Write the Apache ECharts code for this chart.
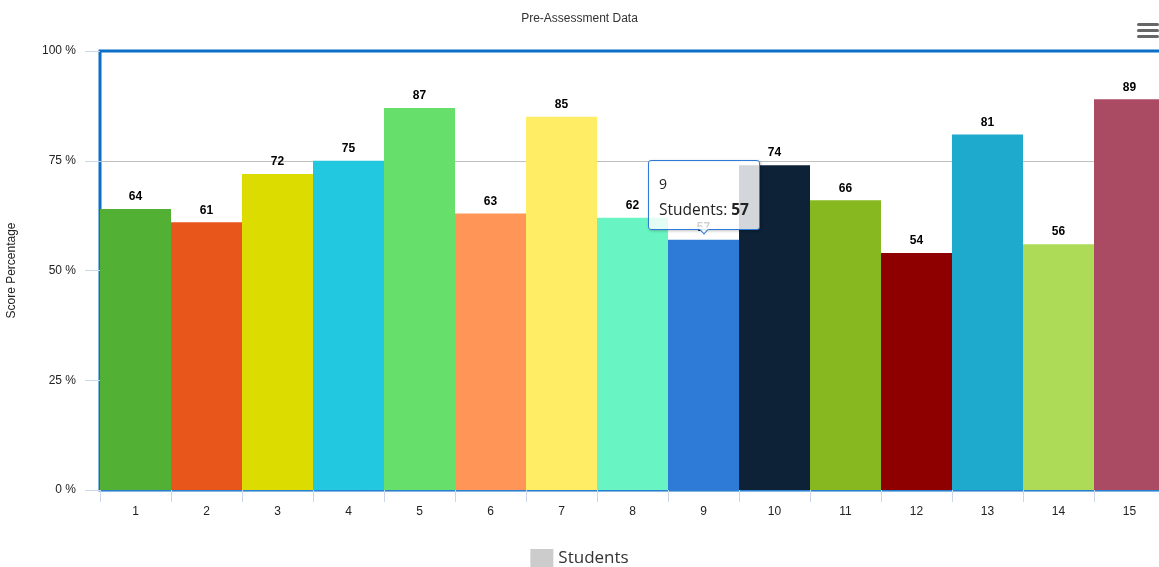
<!DOCTYPE html>
<html>
<head>
<meta charset="utf-8">
<script src="https://cdn.jsdelivr.net/npm/echarts@6/dist/echarts.min.js"></script>
<style>
  html, body { margin: 0; padding: 0; background: #fff; }
  #chart { width: 1159px; height: 567px; }
</style>
</head>
<body>
<div id="chart"></div>
<script>
// pre-assessment bar chart
var students = ['1', '2', '3', '4', '5', '6', '7', '8', '9', '10', '11', '12', '13', '14', '15'];
var scores = [64, 61, 72, 75, 87, 63, 85, 62, 57, 74, 66, 54, 81, 56, 89];
var barColors = ['#52b135', '#e8561c', '#dcdc00', '#22c7e0', '#66e06a', '#ff9658', '#ffed66', '#69f5c3',
                 '#2d7bd6', '#0d2137', '#88b81f', '#8e0000', '#1eaacd', '#addb57', '#ab4b63'];
var yTicks = [0, 25, 50, 75, 100];

(function() {
    var myChart = echarts.init(document.getElementById('chart'));
    var font = '"Liberation Sans", Arial, sans-serif';

    var option = {
        animation: false,
        title: {
            text: 'Pre-Assessment Data',
            left: 'center',
            top: 8,
            textStyle: { fontFamily: font, fontSize: 12, fontWeight: 'normal', color: '#333' }
        },
        graphic: [{
            type: 'group',
            right: 0,
            top: 23,
            children: [
                { type: 'rect', shape: { x: 0, y: 0, width: 22, height: 3, r: 1.5 }, style: { fill: '#666' } },
                { type: 'rect', shape: { x: 0, y: 6, width: 22, height: 3, r: 1.5 }, style: { fill: '#666' } },
                { type: 'rect', shape: { x: 0, y: 12, width: 22, height: 3, r: 1.5 }, style: { fill: '#666' } }
            ]
        }],
        legend: {
            bottom: -6,
            left: 'center',
            icon: 'rect',
            itemWidth: 23,
            itemHeight: 19,
            itemGap: 8,
            textStyle: { fontFamily: '"Open Sans", sans-serif', fontSize: 17, color: '#333' },
            data: ['Students']
        },
        tooltip: {
            trigger: 'item',
            position: 'top',
            alwaysShowContent: true,
            backgroundColor: 'rgba(255,255,255,0.82)',
            borderWidth: 1,
            padding: [10, 10, 8, 10],
            extraCssText: 'border-radius:3px;box-shadow:1px 1px 3px rgba(0,0,0,0.25);',
            textStyle: { fontFamily: '"Open Sans", sans-serif', fontSize: 13, color: '#222' },
            formatter: function(p) {
                return '<div style="line-height:26px;font-size:14px">' + p.name + '</div>' +
                    '<div style="line-height:24px;font-size:15.5px">' + p.seriesName +
                    ': <b>' + p.value + '</b></div>';
            }
        },
        grid: {
            left: 100,
            width: 1065,
            top: 51,
            bottom: 77,
            outerBoundsMode: 'none',
            show: true,
            borderColor: '#0b6fc7',
            borderWidth: 3
        },
        xAxis: {
            type: 'category',
            data: students,
            axisLine: { lineStyle: { color: '#2a7fcf', width: 1 } },
            axisTick: { show: true, length: 12, lineStyle: { color: '#ccd6eb' } },
            axisLabel: { fontFamily: font, fontSize: 12, color: '#222', margin: 16 }
        },
        yAxis: {
            type: 'value',
            min: yTicks[0],
            max: yTicks[yTicks.length - 1],
            interval: 25,
            name: 'Score Percentage',
            nameLocation: 'middle',
            nameGap: 82,
            nameTextStyle: { fontFamily: font, fontSize: 12, color: '#222' },
            axisLine: { show: false },
            axisTick: { show: true, length: 15, lineStyle: { color: '#ccd6eb' } },
            axisLabel: {
                fontFamily: font, fontSize: 12, color: '#222', margin: 24,
                formatter: '{value} %'
            },
            splitLine: { showMaxLine: false, showMinLine: false, lineStyle: { color: '#c0c0c0' } }
        },
        series: [{
            name: 'Students',
            type: 'bar',
            barCategoryGap: '0%',
            color: '#cccccc',
            data: scores.map(function(v, i) {
                return { value: v, itemStyle: { color: barColors[i] } };
            }),
            label: {
                show: true,
                position: 'top',
                distance: 6,
                fontFamily: font,
                fontSize: 12,
                fontWeight: 'bold',
                color: '#000'
            },
            emphasis: { disabled: true }
        }]
    };

    myChart.setOption(option);
    myChart.dispatchAction({ type: 'showTip', seriesIndex: 0, dataIndex: 8 });

    window.addEventListener('resize', function() {
        myChart.resize();
    });
})();
</script>
</body>
</html>
